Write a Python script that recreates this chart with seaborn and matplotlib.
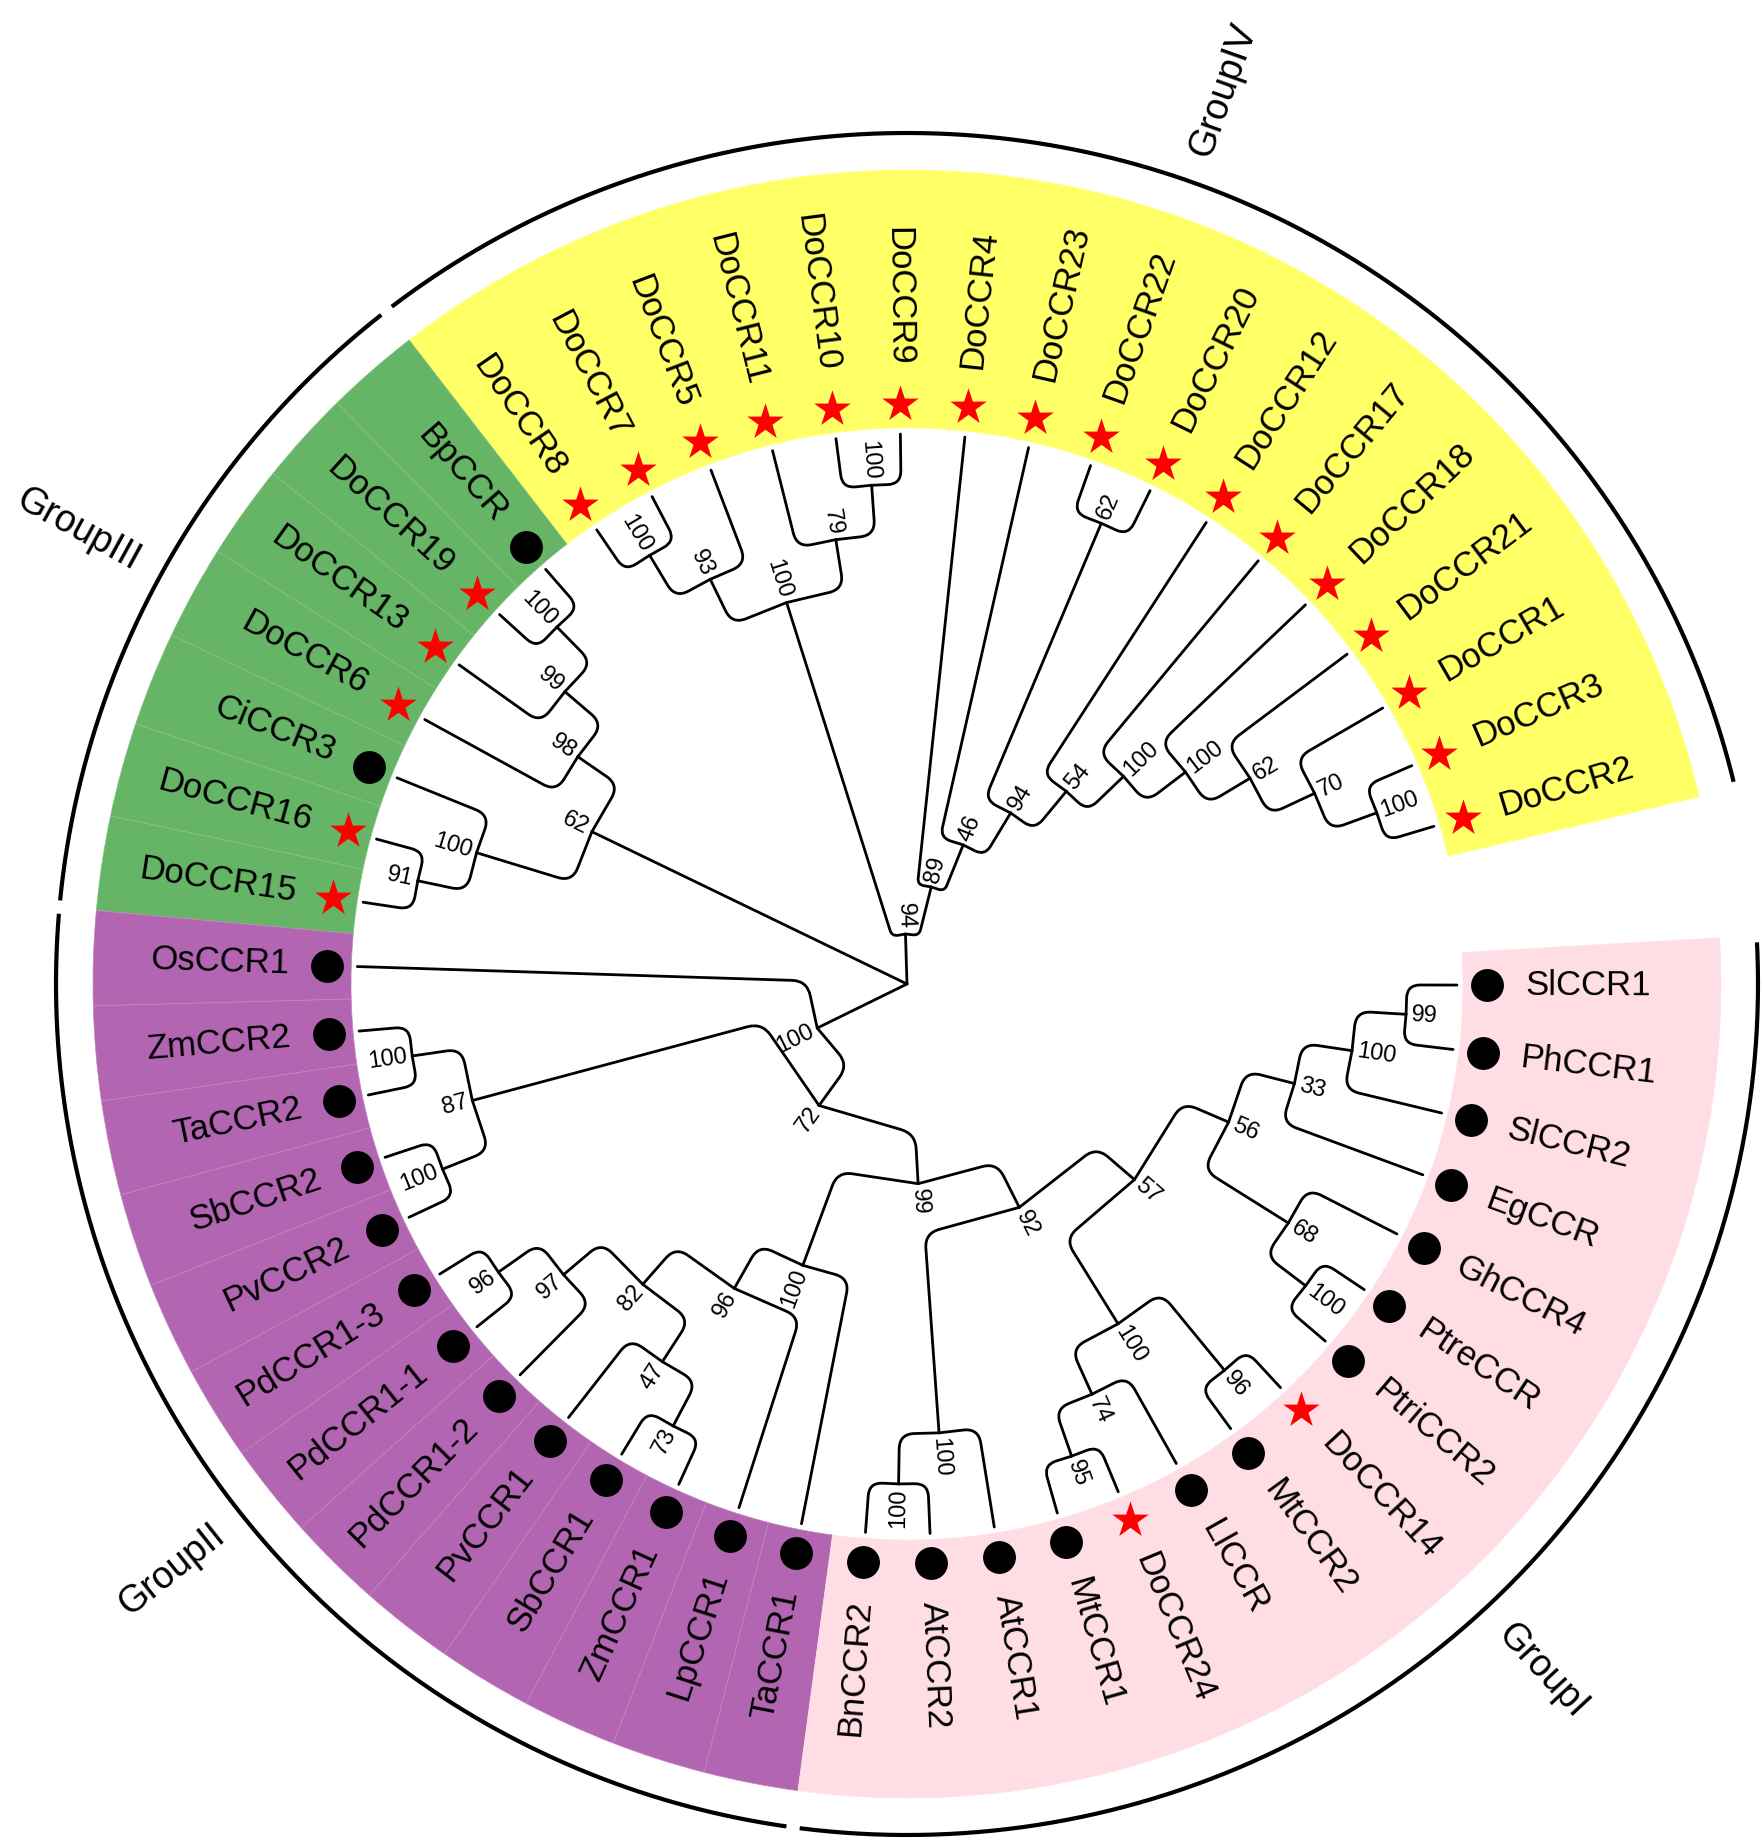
import numpy as np
import pandas as pd
import matplotlib
matplotlib.use("Agg")
import matplotlib.pyplot as plt
import seaborn as sns
from matplotlib.path import Path
from matplotlib.patches import PathPatch, Wedge
from matplotlib.colors import to_rgb

# ---------------- data ----------------
leaves = ["DoCCR2", "DoCCR3", "DoCCR1", "DoCCR21", "DoCCR18", "DoCCR17", "DoCCR12",
          "DoCCR20", "DoCCR22", "DoCCR23", "DoCCR4", "DoCCR9", "DoCCR10", "DoCCR11",
          "DoCCR5", "DoCCR7", "DoCCR8",
          "BpCCR", "DoCCR19", "DoCCR13", "DoCCR6", "CiCCR3", "DoCCR16", "DoCCR15",
          "OsCCR1", "ZmCCR2", "TaCCR2", "SbCCR2", "PvCCR2", "PdCCR1-3", "PdCCR1-1",
          "PdCCR1-2", "PvCCR1", "SbCCR1", "ZmCCR1", "LpCCR1", "TaCCR1",
          "BnCCR2", "AtCCR2", "AtCCR1", "MtCCR1", "DoCCR24", "LlCCR", "MtCCR2",
          "DoCCR14", "PtriCCR2", "PtreCCR", "GhCCR4", "EgCCR", "SlCCR2", "PhCCR1", "SlCCR1"]

groups = ["GroupIV", "GroupIII", "GroupII", "GroupI"]
group_sizes = [17, 7, 13, 15]
group_colors = ["#FFFF66", "#66B466", "#B266B2", "#FFDDE4"]

clade_IV_top = "(((DoCCR8,DoCCR7)100,DoCCR5)93,(DoCCR11,(DoCCR10,DoCCR9)100)79)100"
clade_IV_ladder = ("(DoCCR4,(DoCCR23,((DoCCR22,DoCCR20)62,(DoCCR12,(DoCCR17,(DoCCR18,"
                   "(DoCCR21,(DoCCR1,(DoCCR3,DoCCR2)100)70)62)100)100)54)94)46)89")
clade_III = "((((BpCCR,DoCCR19)100,DoCCR13)99,DoCCR6)98,(CiCCR3,(DoCCR16,DoCCR15)91)100)62"
clade_II_low = ("(((((PdCCR1-3,PdCCR1-1)96,PdCCR1-2)97,(PvCCR1,(SbCCR1,ZmCCR1)73)47)82,"
                "LpCCR1)96,TaCCR1)100")
clade_I = ("(((BnCCR2,AtCCR2)100,AtCCR1)100,(((((SlCCR1,PhCCR1)99,SlCCR2)100,EgCCR)33,"
           "(GhCCR4,(PtreCCR,PtriCCR2)100)68)56,(((MtCCR1,DoCCR24)95,LlCCR)74,"
           "(MtCCR2,DoCCR14)96)100)57)92")
clade_II_I = ("(OsCCR1,(((ZmCCR2,TaCCR2)100,(SbCCR2,PvCCR2)100)87,(" + clade_II_low + ","
              + clade_I + ")99)72)100")
newick = "((" + clade_IV_top + "," + clade_IV_ladder + ")94," + clade_III + "," + clade_II_I + ");"

# ---------------- layout constants ----------------
CX, CY = 907, 858
THETA0, DTHETA = 16.66, 6.73
R_LEAF, STEP = 550, 50
R_BAND_IN, R_BAND_OUT = 556, 814
R_MARK, R_TEXT = 580, 618
R_ARC, R_GROUP = 851, 878


def parse(s):
    pos = 0

    def node():
        nonlocal pos
        if s[pos] == '(':
            pos += 1
            kids = [node()]
            while s[pos] == ',':
                pos += 1
                kids.append(node())
            pos += 1  # ')'
            lab = ''
            while pos < len(s) and s[pos] not in ',);':
                lab += s[pos]
                pos += 1
            return {'children': kids, 'support': lab}
        name = ''
        while s[pos] not in ',);':
            name += s[pos]
            pos += 1
        return {'children': [], 'name': name}
    return node()


tree = parse(newick)
leaf_angle = {n: THETA0 + i * DTHETA for i, n in enumerate(leaves)}


def layout(nd):
    if not nd['children']:
        nd['theta'] = leaf_angle[nd['name']]
        nd['h'] = 0
    else:
        for c in nd['children']:
            layout(c)
        nd['theta'] = float(np.mean([c['theta'] for c in nd['children']]))
        nd['h'] = max(c['h'] for c in nd['children']) + 1
    nd['r'] = R_LEAF - STEP * nd['h']


layout(tree)


def pol(r, t):
    t = np.radians(t)
    return CX + r * np.cos(t), CY + r * np.sin(t)


def rot_ha(t):
    t = t % 360
    if 90 < t < 270:
        return t - 180, 'right'
    return (t if t <= 90 else t - 360), 'left'


sns.set_theme(style="white")
plt.rcParams['font.family'] = ['Liberation Sans', 'DejaVu Sans']

fig = plt.figure(figsize=(17.64, 18.42), dpi=100)
ax = fig.add_axes([0, 0, 1, 1])

# ---------------- colored bands ----------------
start = 0
for g, size, col in zip(groups, group_sizes, group_colors):
    rgb = np.array(to_rgb(col))
    light = rgb + (1 - rgb) * 0.2
    for n in leaves[start:start + size]:
        t = leaf_angle[n]
        ax.add_patch(Wedge((CX, CY), R_BAND_OUT, t - DTHETA / 2, t + DTHETA / 2,
                           width=R_BAND_OUT - R_BAND_IN, facecolor=col,
                           edgecolor=light, lw=0.5, zorder=1))
    start += size

# ---------------- tree edges ----------------
def edge_path(p, c):
    P = np.array(pol(p['r'], p['theta']))
    Q = np.array(pol(p['r'], c['theta']))
    C = np.array(pol(c['r'], c['theta']))
    d1 = np.linalg.norm(Q - P)
    d2 = np.linalg.norm(C - Q)
    if d1 < 1e-6 or d2 < 1e-6:
        return Path([P, C], [Path.MOVETO, Path.LINETO])
    rad = min(15, 0.45 * d1, 0.45 * d2)
    A = Q + (P - Q) / d1 * rad
    B = Q + (C - Q) / d2 * rad
    return Path([P, A, Q, B, C],
                [Path.MOVETO, Path.LINETO, Path.CURVE3, Path.CURVE3, Path.LINETO])


def draw(nd):
    for c in nd['children']:
        ax.add_patch(PathPatch(edge_path(nd, c), fill=False, lw=2.0,
                               edgecolor='black', capstyle='round', zorder=2))
        draw(c)
    if nd['children'] and nd.get('support') and nd['r'] > 0:
        rot, ha = rot_ha(nd['theta'])
        x, y = pol(nd['r'] + 5, nd['theta'])
        ax.text(x, y, nd['support'], rotation=rot, ha=ha, va='center',
                rotation_mode='anchor', fontsize=17, color='black', zorder=5)


draw(tree)

# ---------------- leaf markers & labels ----------------
df = pd.DataFrame({'name': leaves, 'theta': [leaf_angle[n] for n in leaves]})
df['x'], df['y'] = pol(R_MARK, df['theta'].values)
df['kind'] = np.where(df['name'].str.startswith('Do'), 'star', 'dot')

sns.scatterplot(data=df[df['kind'] == 'star'], x='x', y='y', marker='*', s=760,
                color='#FF0000', linewidth=0, ax=ax, zorder=4, legend=False)
sns.scatterplot(data=df[df['kind'] == 'dot'], x='x', y='y', marker='o', s=560,
                color='black', linewidth=0, ax=ax, zorder=4, legend=False)

for n, t in zip(df['name'], df['theta']):
    rot, ha = rot_ha(t)
    x, y = pol(R_TEXT, t)
    ax.text(x, y, n, rotation=rot, ha=ha, va='center', rotation_mode='anchor',
            fontsize=25, color='black', zorder=5)

# ---------------- group arcs & labels ----------------
start = 0
for g, size in zip(groups, group_sizes):
    a0 = leaf_angle[leaves[start]] - DTHETA / 2 + 0.45
    a1 = leaf_angle[leaves[start + size - 1]] + DTHETA / 2 - 0.45
    tt = np.linspace(a0, a1, 400)
    xs, ys = pol(R_ARC, tt)
    ax.plot(xs, ys, color='black', lw=3.0, solid_capstyle='butt', zorder=3)
    mid = (a0 + a1) / 2
    rot, ha = rot_ha(mid)
    x, y = pol(R_GROUP, mid)
    ax.text(x, y, g, rotation=rot, ha=ha, va='center', rotation_mode='anchor',
            fontsize=27, color='black', zorder=5)
    start += size

ax.set_xlim(0, 1764)
ax.set_ylim(0, 1842)
ax.set_aspect('equal', adjustable='box')
ax.axis('off')
fig.savefig("out.png", dpi=100, facecolor='white')
